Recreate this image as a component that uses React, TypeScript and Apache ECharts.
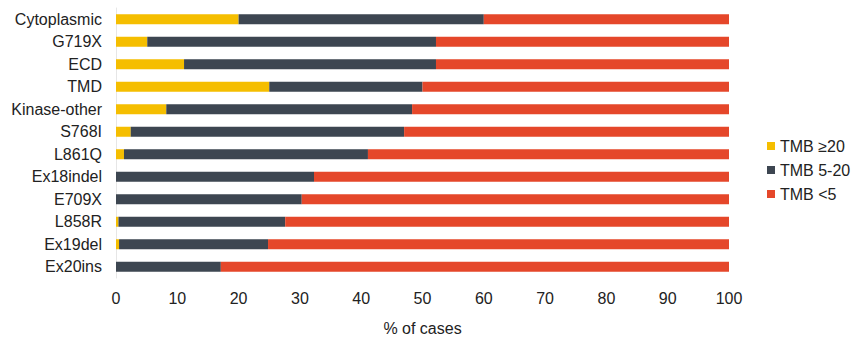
import React, { useEffect, useRef } from "react";
import * as echarts from "echarts";

const categories = ["Cytoplasmic", "G719X", "ECD", "TMD", "Kinase-other", "S768I", "L861Q", "Ex18indel", "E709X", "L858R", "Ex19del", "Ex20ins"];
const tmbHigh = [20, 5.1, 11.1, 25, 8.2, 2.4, 1.3, 0, 0, 0.4, 0.5, 0];
const tmbMid = [40, 47.1, 41.1, 25, 40.1, 44.6, 39.8, 32.3, 30.3, 27.2, 24.3, 17.1];
const tmbLow = [40, 47.8, 47.8, 50, 51.7, 53, 58.9, 67.7, 69.7, 72.4, 75.2, 82.9];
const xTicks = [0, 10, 20, 30, 40, 50, 60, 70, 80, 90, 100];

const FONT = "'Liberation Sans', Arial, sans-serif";

export default function App() {
  const ref = useRef<HTMLDivElement>(null);
  useEffect(() => {
    if (!ref.current) return;
    const chart = echarts.init(ref.current, null, { renderer: "svg" });
    const cats = [...categories].reverse();
    const rev = (a: number[]) => [...a].reverse();
    const mk = (name: string, data: number[], color: string) => ({
      name,
      type: "bar" as const,
      stack: "t",
      data: rev(data),
      barWidth: 10,
      itemStyle: { color },
    });
    chart.setOption({
      animation: false,
      textStyle: { fontFamily: FONT },
      grid: { left: 116, right: 136, top: 8, bottom: 72 },
      legend: {
        orient: "vertical",
        left: 762,
        top: 133,
        itemWidth: 8,
        itemHeight: 8,
        itemGap: 8,
        icon: "rect",
        textStyle: { fontSize: 16, color: "#222", fontFamily: FONT },
        data: ["TMB ≥20", "TMB 5-20", "TMB <5"],
      },
      xAxis: {
        type: "value",
        min: 0,
        max: 100,
        interval: 10,
        name: "% of cases",
        nameLocation: "middle",
        nameGap: 42,
        nameTextStyle: { fontSize: 16, color: "#222", fontFamily: FONT },
        axisLine: { show: false },
        axisTick: { show: false },
        splitLine: { show: false },
        axisLabel: {
          fontSize: 16,
          color: "#222",
          margin: 12,
          fontFamily: FONT,
          formatter: (v: number) => (xTicks.includes(v) ? String(v) : ""),
        },
      },
      yAxis: {
        type: "category",
        data: cats,
        axisLine: { show: true, lineStyle: { color: "#e6e6e6" } },
        axisTick: { show: false },
        axisLabel: { fontSize: 16, color: "#222", margin: 14, fontFamily: FONT },
      },
      series: [
        mk("TMB ≥20", tmbHigh, "#F5BE00"),
        mk("TMB 5-20", tmbMid, "#3D4651"),
        mk("TMB <5", tmbLow, "#E5472A"),
      ],
    });
    return () => chart.dispose();
  }, []);
  return <div ref={ref} style={{ width: 865, height: 350, position: "absolute", left: 0, top: 0, background: "#fff" }} />;
}
